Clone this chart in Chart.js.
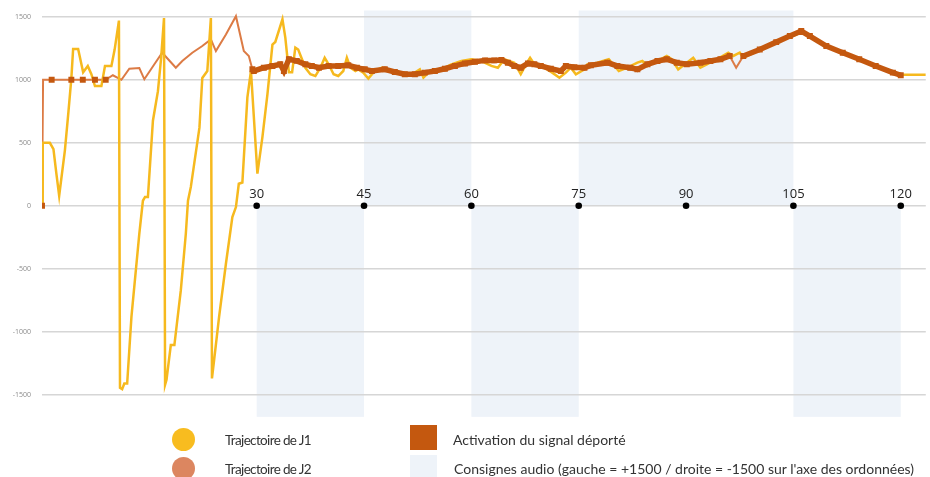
<!DOCTYPE html>
<html lang="fr">
<head>
<meta charset="utf-8">
<title>Trajectoires J1 / J2</title>
<script src="https://cdn.jsdelivr.net/npm/chart.js@4"></script>
<style>
    body { margin: 0; background: #fff; }
    .cadre { position: relative; width: 930px; height: 477px; overflow: hidden; }
    .legende { position: absolute; font-family: Lato, sans-serif; color: #333; white-space: nowrap; line-height: 16px; }
    .gauche { font-size: 13.5px; letter-spacing: -0.65px; }
    .droite { font-size: 14px; }
    .pastille { position: absolute; }
</style>
</head>
<body>
<div class="cadre">
    <canvas id="grafico-trajectoires" width="930" height="477"></canvas>

    <div class="pastille" style="left:172px;top:428px;width:23px;height:23px;border-radius:50%;background:#f8bc1f;"></div>
    <div class="legende gauche" style="left:225px;top:432px;">Trajectoire de J1</div>
    <div class="pastille" style="left:172px;top:457px;width:23px;height:23px;border-radius:50%;background:#dc8660;"></div>
    <div class="legende gauche" style="left:225px;top:461px;">Trajectoire de J2</div>

    <div class="pastille" style="left:410px;top:425px;width:27px;height:25px;background:#c4580f;"></div>
    <div class="legende droite" style="left:453px;top:432px;">Activation du signal déporté</div>
    <div class="pastille" style="left:410px;top:455px;width:27px;height:22px;background:#eef3f9;"></div>
    <div class="legende droite" style="left:454px;top:461px;">Consignes audio (gauche = +1500 / droite = -1500 sur l'axe des ordonnées)</div>
</div>

<script>
// temps (s) et position
const J1_T = [0, 0.1, 1.1, 1.6, 2.0, 2.4, 3.2, 3.7, 4.1, 4.35, 5.05, 5.75, 6.4, 6.9, 7.4, 8.3, 8.8, 9.7, 10.15, 10.75,
    10.9, 11.2, 11.5, 11.9, 12.5, 13.6, 14.1, 14.4, 14.8, 15.5, 16.2, 16.65, 17.05,
    17.2, 17.4, 18.0, 18.5, 19.4, 20.1, 20.4, 20.8, 22.0, 22.4, 23.1, 23.6,
    23.75, 24.05, 24.75, 25.7, 26.6, 27.1, 27.5, 28.0, 28.7, 29.2, 30.1, 30.8, 31.5, 32.2, 32.6, 33.6, 34.0,
    34.5, 34.95, 35.4, 35.8, 36.8, 37.5, 38.2, 38.9, 39.5, 40.05, 40.75, 41.4, 42.1, 42.6, 43.1, 43.8, 44.2,
    44.9, 45.6, 46.5, 47.5, 48.4, 49.3, 50.2, 51.2, 52.1, 52.8, 53.3, 54.0, 55.4, 57.2, 58.6, 60.0, 61.4,
    62.8, 63.7, 64.6, 66.0, 66.9, 67.9, 68.2, 68.8, 70.2, 71.3, 72.3, 73.2, 73.9, 74.6, 75.8, 76.2, 77.6,
    79.2, 80.6, 81.8, 83.2, 83.9, 84.6, 86.0, 87.3, 88.0, 88.9, 90.1, 91.0, 92.0, 92.9, 94.3, 95.9, 96.6,
    97.5, 98.0, 100.3, 102.6, 104.5, 106.1, 107.3, 109.6, 111.9, 114.2, 116.5, 118.9, 120.0, 123.5];
const J1_V = [0, 500, 500, 450, 260, 80, 440, 750, 1010, 1245, 1245, 1060, 1110, 1045, 950, 950, 1110, 1110, 1240, 1470,
    -1445, -1455, -1410, -1410, -880, -220, 40, 70, 70, 675, 910, 1175, 1490,
    -1420, -1380, -1105, -1105, -670, -220, 40, 150, 620, 1015, 1070, 1490,
    -1370, -1225, -880, -460, -90, -10, 175, 185, 860, 1070, 255, 545, 885, 1280, 1300, 1480, 1335,
    1060, 1060, 1255, 1240, 1095, 1044, 1030, 1096, 1175, 1123, 1044, 1030, 1070, 1175, 1096, 1070, 1083,
    1057, 1010, 1070, 1096, 1070, 1057, 1057, 1044, 1057, 1083, 1017, 1057, 1070, 1123, 1149, 1163, 1149,
    1110, 1096, 1163, 1136, 1044, 1149, 1175, 1123, 1096, 1057, 1017, 1057, 1096, 1044, 1083, 1123, 1136,
    1163, 1070, 1096, 1136, 1149, 1110, 1149, 1189, 1163, 1083, 1136, 1175, 1096, 1123, 1163, 1215, 1189,
    1215, 1175, 1235, 1295, 1340, 1375, 1345, 1265, 1212, 1160, 1108, 1055, 1040, 1040];

const J2_T = [0, 0.15, 1.35, 4.1, 5.7, 7.4, 8.9, 9.9, 11.1, 12.2, 13.6, 14.3, 15.7, 16.8, 18.7, 19.6, 21.0, 22.4,
    23.6, 24.3, 25.7, 27.1, 28.2, 28.9, 29.4, 29.6, 31.0, 32.2, 33.3, 33.8, 34.5, 35.6, 36.8, 37.7, 38.7,
    40.05, 41.4, 42.8, 44.0, 45.1, 46.1, 47.9, 49.3, 50.7, 52.1, 53.5, 54.9, 56.3, 57.7, 59.1, 60.5, 61.9,
    63.2, 64.2, 65.1, 66.0, 66.9, 67.9, 68.8, 69.7, 71.1, 72.5, 73.2, 74.4, 75.8, 76.7, 79.0, 80.4, 82.2,
    83.2, 84.6, 86.0, 87.3, 88.7, 90.1, 92.0, 93.4, 94.8, 96.1, 97.0, 98.0, 100.3, 102.6, 104.5, 106.1,
    107.3, 109.6, 111.9, 114.2, 116.5, 118.9, 120.0];
const J2_V = [0, 1000, 1000, 1000, 1000, 1000, 1000, 1036, 1000, 1088, 1093, 1004, 1123, 1215, 1096, 1149, 1215, 1268,
    1321, 1228, 1360, 1505, 1228, 1189, 1083, 1070, 1096, 1110, 1123, 1070, 1163, 1150, 1123, 1110, 1096,
    1110, 1110, 1115, 1096, 1083, 1070, 1083, 1062, 1044, 1044, 1057, 1070, 1088, 1110, 1130, 1143, 1154,
    1154, 1157, 1136, 1110, 1096, 1130, 1123, 1110, 1088, 1070, 1110, 1100, 1096, 1115, 1136, 1110, 1096,
    1083, 1123, 1149, 1163, 1136, 1123, 1136, 1149, 1163, 1189, 1096, 1189, 1240, 1299, 1347, 1387,
    1347, 1268, 1215, 1163, 1110, 1057, 1036];

// périodes d'activation du signal déporté (sur la trajectoire de J2)
const ACT_DEBUT = [0, 1.35, 4.1, 5.7, 7.4, 8.9, 29.4, 98.0];
const ACT_FIN   = [0, 1.35, 4.1, 5.7, 7.4, 8.9, 96.1, 120.0];

// consignes audio : +1 = gauche (haut), -1 = droite (bas)
const CONSIGNE_DEBUT = [30, 45, 60, 75, 105];
const CONSIGNE_FIN   = [45, 60, 75, 105, 120];
const CONSIGNE_COTE  = [-1, 1, -1, 1, -1];
const CONSIGNE_HAUT = 1550;
const CONSIGNE_BAS = -1675;

const X_TICKS = [30, 45, 60, 75, 90, 105, 120];
const Y_TICKS = [1500, 1000, 500, 0, -500, -1000, -1500];

function versPoints(ts, vs) {
    return ts.map(function(t, i) { return { x: t, y: vs[i] }; });
}

var pointsActivation = [];
ACT_DEBUT.forEach(function(debut, i) {
    var fin = ACT_FIN[i];
    J2_T.forEach(function(t, j) {
        if (t >= debut && t <= fin) pointsActivation.push({ x: t, y: J2_V[j] });
    });
    pointsActivation.push({ x: fin, y: null });
});

const pluginConsignes = {
    id: 'consignes',
    beforeDraw: function(chart) {
        var ctx = chart.ctx, sx = chart.scales.x, sy = chart.scales.y;
        ctx.save();
        ctx.fillStyle = '#eef3f9';
        CONSIGNE_DEBUT.forEach(function(debut, i) {
            var x0 = sx.getPixelForValue(debut), x1 = sx.getPixelForValue(CONSIGNE_FIN[i]);
            var y0 = sy.getPixelForValue(CONSIGNE_COTE[i] > 0 ? CONSIGNE_HAUT : 0);
            var y1 = sy.getPixelForValue(CONSIGNE_COTE[i] > 0 ? 0 : CONSIGNE_BAS);
            ctx.fillRect(x0, y0, x1 - x0, y1 - y0);
        });
        ctx.restore();
    }
};

const pluginTemps = {
    id: 'temps',
    afterDatasetsDraw: function(chart) {
        var ctx = chart.ctx, sx = chart.scales.x, sy = chart.scales.y;
        ctx.save();
        ctx.font = '13px "Open Sans", sans-serif';
        ctx.fillStyle = '#222';
        ctx.textAlign = 'center';
        ctx.textBaseline = 'alphabetic';
        X_TICKS.forEach(function(t) {
            ctx.fillText(String(t), sx.getPixelForValue(t), sy.getPixelForValue(0) - 8);
        });
        ctx.restore();
    }
};

new Chart(document.getElementById('grafico-trajectoires'), {
    type: 'line',
    data: {
        datasets: [
            {
                label: 'repères',
                data: X_TICKS.map(function(t) { return { x: t, y: 0 }; }),
                showLine: false,
                pointRadius: 3.3,
                pointBackgroundColor: '#000',
                pointBorderWidth: 0
            },
            {
                label: 'Activation du signal déporté',
                data: pointsActivation,
                borderColor: '#c4580f',
                borderWidth: 5.5,
                pointStyle: 'rect',
                pointRadius: 4.2,
                pointBackgroundColor: '#c4580f',
                pointBorderWidth: 0,
                tension: 0
            },
            {
                label: 'Trajectoire de J1',
                data: versPoints(J1_T, J1_V),
                borderColor: '#f6b91e',
                borderWidth: 2.5,
                pointRadius: 0,
                tension: 0
            },
            {
                label: 'Trajectoire de J2',
                data: versPoints(J2_T, J2_V),
                borderColor: '#dc7b45',
                borderWidth: 2,
                pointRadius: 0,
                tension: 0
            }
        ]
    },
    options: {
        responsive: false,
        animation: false,
        layout: { padding: { top: 3, bottom: 57, left: 0, right: 0 } },
        plugins: {
            legend: { display: false },
            tooltip: { enabled: false }
        },
        scales: {
            x: {
                type: 'linear',
                display: false,
                min: 0,
                max: 123.5
            },
            y: {
                min: -1700,
                max: 1600,
                afterBuildTicks: function(scale) {
                    scale.ticks = Y_TICKS.map(function(v) { return { value: v }; });
                },
                afterFit: function(scale) {
                    scale.width = 42;
                    scale.paddingTop = 0;
                    scale.paddingBottom = 0;
                },
                border: { display: false },
                grid: { color: '#d6d6d6', lineWidth: 1.5, drawTicks: false },
                ticks: {
                    color: '#8a8a8a',
                    padding: 11,
                    font: { size: 7, family: 'Open Sans' },
                    callback: function(valeur) { return String(valeur); }
                }
            }
        }
    },
    plugins: [pluginConsignes, pluginTemps]
});
</script>
</body>
</html>
